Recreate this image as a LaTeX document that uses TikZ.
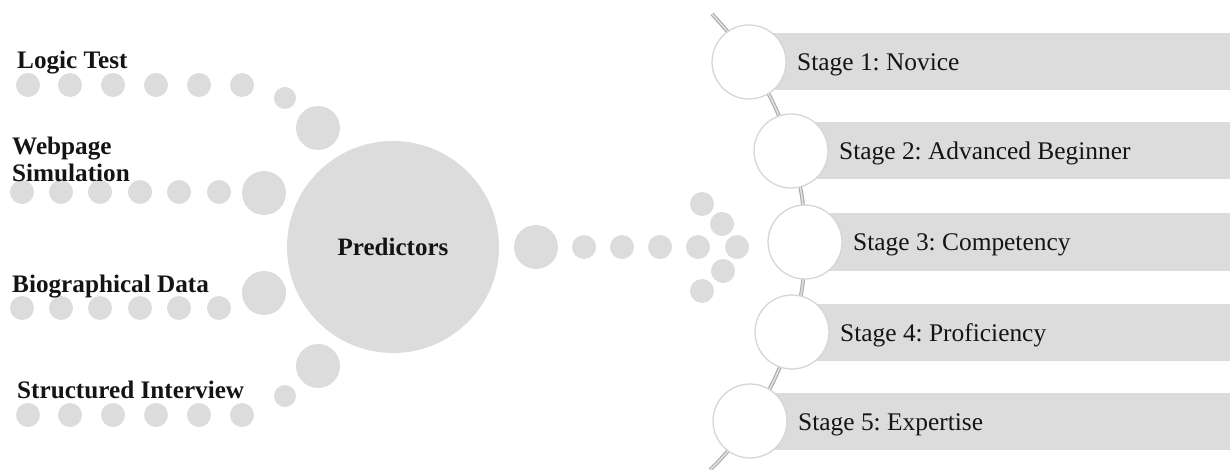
\documentclass[tikz,border=0pt]{standalone}
\usepackage{fontspec}
\setmainfont{Liberation Serif}
\definecolor{dotgray}{RGB}{220,220,220}
\definecolor{ringgray}{RGB}{214,214,214}
\definecolor{linegray}{RGB}{170,170,170}
\definecolor{lineinner}{RGB}{225,225,225}
\definecolor{txt}{RGB}{20,20,20}
\pgfdeclarelayer{bars}
\pgfdeclarelayer{conn}
\pgfsetlayers{bars,conn,main}
\begin{document}
\frenchspacing
\begin{tikzpicture}[x=1pt,y=-1pt,
  dotc/.style={circle, fill=dotgray, inner sep=0pt, minimum size=#1},
  dotc/.default=24pt,
  stagecircle/.style={circle, fill=white, draw=ringgray, line width=1.3pt, inner sep=0pt, minimum size=74pt},
  stagebar/.style={fill=dotgray},
  stagetext/.style={anchor=base west, inner sep=0pt, text=txt, font=\fontsize{25.4}{28}\selectfont},
  lbl/.style={anchor=base west, inner sep=0pt, text=txt, font=\fontsize{25.2}{27}\selectfont\bfseries, align=left},
  conline/.style={draw=linegray, line width=1.1pt, double=lineinner, double distance=1.6pt}
]
\useasboundingbox (0,0) rectangle (1230,470);

% ---------- left rows of dots ----------
\foreach \x [count=\i] in {28,70,113,156,199,242} {
  \node[dotc] (lt\i) at (\x,85) {};
  \node[dotc] (si\i) at (\x,415) {};
}
\foreach \x [count=\i] in {22,61,100,140,179,219} {
  \node[dotc] (wp\i) at (\x,192) {};
  \node[dotc] (bd\i) at (\x,308) {};
}
\node[dotc=22pt] (lts) at (285,98) {};
\node[dotc=44pt] (ltb) at (318,128) {};
\node[dotc=44pt] (wpb) at (264,193) {};
\node[dotc=44pt] (bdb) at (264,293) {};
\node[dotc=22pt] (sis) at (285,396) {};
\node[dotc=44pt] (sib) at (318,366) {};

% ---------- central circle ----------
\node[dotc=212pt, text=txt, font=\fontsize{25}{27}\selectfont\bfseries] (pred) at (393,247) {Predictors};

% ---------- left labels ----------
\node[lbl] (llt) at (17,69) {Logic Test};
\node[lbl, anchor=south west] (lwp) at (12,182) {Webpage\\Simulation};
\node[lbl] (lbd) at (12,292) {Biographical Data};
\node[lbl] (lsi) at (17,398) {Structured Interview};

% ---------- right arrow of dots ----------
\node[dotc=44pt] (ra0) at (536,247) {};
\foreach \x [count=\i] in {584,622,660,698,737} {
  \node[dotc] (ra\i) at (\x,247) {};
}
\node[dotc] (ar1) at (702,204) {};
\node[dotc] (ar2) at (722,224) {};
\node[dotc] (ar3) at (723,271) {};
\node[dotc] (ar4) at (702,291) {};

% ---------- stages ----------
\foreach \cx/\cy/\n/\t in {749/62/1/{Stage 1: Novice},
                           791/151/2/{Stage 2: Advanced Beginner},
                           805/242/3/{Stage 3: Competency},
                           792/332/4/{Stage 4: Proficiency},
                           750/421/5/{Stage 5: Expertise}} {
  \begin{pgfonlayer}{bars}
    \fill[stagebar] (\cx,\cy-28.5) rectangle (1230,\cy+28.5);
  \end{pgfonlayer}
  \node[stagecircle] (s\n) at (\cx,\cy) {};
  \node[stagetext] (t\n) at (\cx+48,\cy+9) {\t};
}
\coordinate (ctop) at (712,14);
\coordinate (cbot) at (710,470);
\begin{pgfonlayer}{conn}
  \draw[conline] (ctop) to[bend left=5.2] (s1.center)
                        to[bend left=8.8] (s2.center)
                        to[bend left=8.2] (s3.center)
                        to[bend left=8.0] (s4.center)
                        to[bend left=8.6] (s5.center)
                        to[bend left=6.0] (cbot);
\end{pgfonlayer}
\end{tikzpicture}
\end{document}
